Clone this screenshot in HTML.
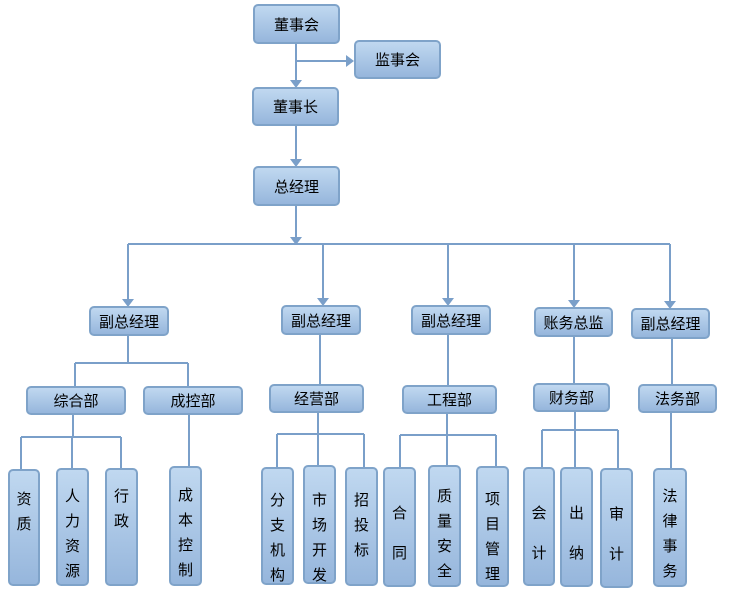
<!DOCTYPE html>
<html><head><meta charset="utf-8"><style>
body{margin:0;width:732px;height:601px;background:#fff;position:relative;overflow:hidden;font-family:"Liberation Sans","Noto Sans CJK SC",sans-serif;}
.b{position:absolute;box-sizing:border-box;border:2px solid #7fa3c9;border-radius:5px;background:linear-gradient(#c0d8f0,#96b6dc);display:flex;align-items:center;justify-content:center;font-size:15px;color:#000;}
.v{flex-direction:column;justify-content:flex-start;line-height:25px;}
svg{position:absolute;left:0;top:0;}
</style></head><body>
<svg width="732" height="601" stroke="#7a9fc9" stroke-width="2" fill="none">
<path d="M296 44V80M296 61H346M296 126V160M296 206V238M128 244H670M128 244V300M323 244V299M448 244V299M574 244V301M670 244V302"/>
<g fill="#7a9fc9" stroke="none">
<path d="M290 80h12l-6 8z"/><path d="M346 55v12l8-6z"/><path d="M290 159h12l-6 8z"/><path d="M290 237h12l-6 8z"/>
<path d="M122 299h12l-6 8z"/><path d="M317 298h12l-6 8z"/><path d="M442 298h12l-6 8z"/><path d="M568 300h12l-6 8z"/><path d="M664 301h12l-6 8z"/>
</g>
<path d="M128 336V363M75 363H188M75 363V386M188 363V386"/>
<path d="M73 414V437M21 437H121M21 437V469M72 437V468M121 437V468M189 414V466"/>
<path d="M320 335V384M318 413V434M277 434H364M277 434V467M318 434V465M364 434V467"/>
<path d="M448 335V385M447 414V435M400 435H496M400 435V467M447 435V465M496 435V466"/>
<path d="M574 337V383M575 412V430M542 430H618M542 430V467M575 430V467M618 430V468"/>
<path d="M672 339V384M671 413V468"/>
</svg>
<div class="b" style="left:253px;top:4px;width:87px;height:40px">董事会</div>
<div class="b" style="left:354px;top:40px;width:87px;height:39px">监事会</div>
<div class="b" style="left:252px;top:87px;width:87px;height:39px">董事长</div>
<div class="b" style="left:253px;top:166px;width:87px;height:40px">总经理</div>
<div class="b" style="left:89px;top:306px;width:80px;height:30px">副总经理</div>
<div class="b" style="left:281px;top:305px;width:80px;height:30px">副总经理</div>
<div class="b" style="left:411px;top:305px;width:80px;height:30px">副总经理</div>
<div class="b" style="left:534px;top:307px;width:79px;height:30px">账务总监</div>
<div class="b" style="left:631px;top:308px;width:79px;height:31px">副总经理</div>
<div class="b" style="left:26px;top:386px;width:100px;height:29px">综合部</div>
<div class="b" style="left:143px;top:386px;width:100px;height:29px">成控部</div>
<div class="b" style="left:269px;top:384px;width:95px;height:29px">经营部</div>
<div class="b" style="left:402px;top:385px;width:95px;height:29px">工程部</div>
<div class="b" style="left:533px;top:383px;width:77px;height:29px">财务部</div>
<div class="b" style="left:638px;top:384px;width:79px;height:29px">法务部</div>
<div class="b v" style="left:8px;top:469px;width:32px;height:117px;padding-top:16px">资<br>质</div>
<div class="b v" style="left:56px;top:468px;width:33px;height:118px;padding-top:14px">人<br>力<br>资<br>源</div>
<div class="b v" style="left:105px;top:468px;width:33px;height:118px;padding-top:14px">行<br>政</div>
<div class="b v" style="left:169px;top:466px;width:33px;height:120px;padding-top:15px">成<br>本<br>控<br>制</div>
<div class="b v" style="left:261px;top:467px;width:33px;height:118px;padding-top:19px">分<br>支<br>机<br>构</div>
<div class="b v" style="left:303px;top:465px;width:33px;height:119px;padding-top:21px">市<br>场<br>开<br>发</div>
<div class="b v" style="left:345px;top:467px;width:33px;height:119px;padding-top:19px">招<br>投<br>标</div>
<div class="b v" style="left:383px;top:467px;width:33px;height:120px;padding-top:25px;line-height:40px">合<br>同</div>
<div class="b v" style="left:428px;top:465px;width:33px;height:122px;padding-top:17px">质<br>量<br>安<br>全</div>
<div class="b v" style="left:476px;top:466px;width:33px;height:121px;padding-top:19px">项<br>目<br>管<br>理</div>
<div class="b v" style="left:523px;top:467px;width:32px;height:119px;padding-top:25px;line-height:40px">会<br>计</div>
<div class="b v" style="left:560px;top:467px;width:33px;height:120px;padding-top:25px;line-height:40px">出<br>纳</div>
<div class="b v" style="left:600px;top:468px;width:33px;height:120px;padding-top:25px;line-height:40px">审<br>计</div>
<div class="b v" style="left:653px;top:468px;width:34px;height:119px;padding-top:14px">法<br>律<br>事<br>务</div>
</body></html>
